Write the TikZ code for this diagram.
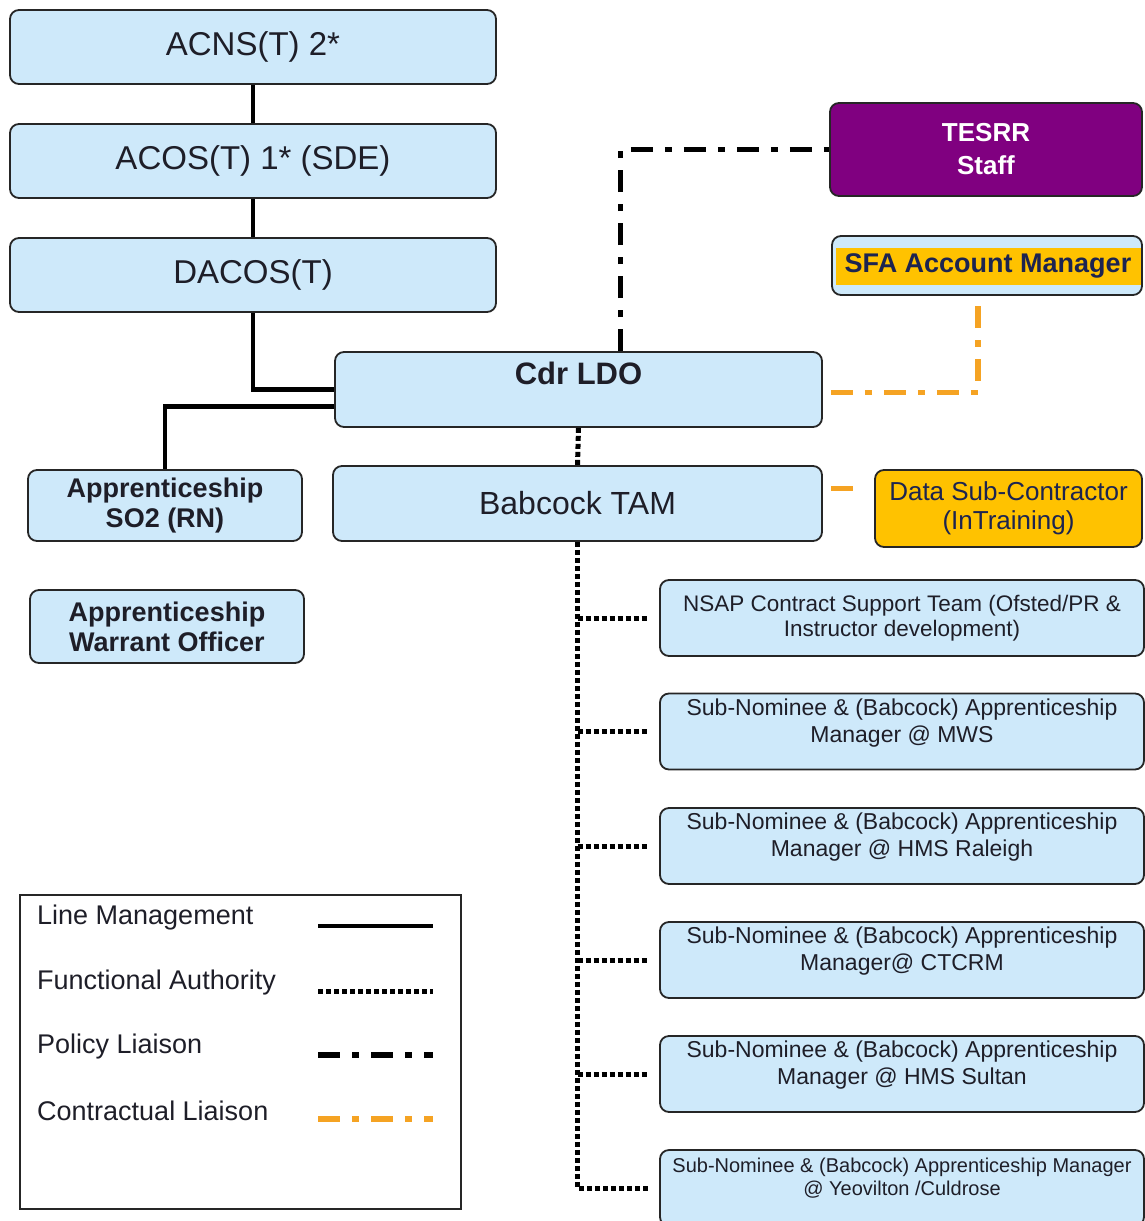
\documentclass[tikz,border=0pt]{standalone}
\usepackage{fontspec}
\setmainfont{Liberation Sans}
\definecolor{boxblue}{RGB}{206,233,250}
\definecolor{txtdark}{RGB}{30,30,40}
\definecolor{navytxt}{RGB}{28,36,80}
\definecolor{tesrrpurple}{RGB}{128,0,128}
\definecolor{sfayellow}{RGB}{255,194,0}
\definecolor{lineorange}{RGB}{245,163,35}
\newcommand{\fs}[2]{\fontsize{#1}{#2}\selectfont}
\tikzset{
  box/.style={draw=black!85, line width=1.8pt, rounded corners=9pt, fill=boxblue,
    text=txtdark, align=center, inner sep=0pt},
  widebox/.style={box, minimum width=486pt, minimum height=74pt, font=\fs{33}{38}},
  subbox/.style={box, minimum width=484pt, minimum height=76pt, font=\fs{23}{27}},
  linemgmt/.style={line width=4.5pt},
  functional/.style={line width=5pt, dash pattern=on 5pt off 3pt},
  policy/.style={line width=5.5pt, dash pattern=on 22pt off 12pt on 7pt off 12pt},
  contract/.style={line width=5.5pt, color=lineorange, dash pattern=on 22pt off 12pt on 7pt off 12pt},
}
\begin{document}
\begin{tikzpicture}[x=1pt, y=-1pt]
  \useasboundingbox (0,0) rectangle (1144,1221);
  % chain of command
  \node[widebox] (acns) at (253,47) {ACNS(T) 2*};
  \node[widebox] (acos) at (253,161) {ACOS(T) 1* (SDE)};
  \node[widebox] (dacos) at (253,275) {DACOS(T)};
  \node[box, minimum width=487pt, minimum height=75pt, font=\fs{31}{36}\bfseries,
    text height=23pt, text depth=33pt] (cdr) at (578.5,389.5) {Cdr LDO};
  \node[box, minimum width=489pt, minimum height=75pt, font=\fs{32}{37}] (tam) at (577.5,503.5) {Babcock TAM};
  \node[box, minimum width=274pt, minimum height=71pt, font=\fs{27}{30}\bfseries] (so2) at (165,505.5) {Apprenticeship\\SO2 (RN)};
  \node[box, minimum width=274pt, minimum height=73pt, font=\fs{27}{30}\bfseries] (wo) at (167,626.5) {Apprenticeship\\Warrant Officer};
  % liaison boxes
  \node[box, fill=tesrrpurple, text=white, minimum width=312pt, minimum height=93pt,
    font=\fs{26}{33}\bfseries] (tesrr) at (986,149.5) {TESRR\\Staff};
  \node[box, minimum width=310pt, minimum height=59pt] (sfa) at (987,265.5) {};
  \node[fill=sfayellow, minimum width=305pt, minimum height=37pt, inner sep=0pt,
    text=navytxt, font=\fs{27}{30}\bfseries] (sfatxt) at (988,266) {SFA Account Manager};
  \node[box, fill=sfayellow, text=navytxt, minimum width=267pt, minimum height=77pt,
    font=\fs{26}{29}] (data) at (1008.5,508.5) {Data Sub-Contractor\\(InTraining)};
  % apprenticeship managers
  \node[subbox, font=\fs{22.5}{25}] (nsap) at (902,618) {NSAP Contract Support Team (Ofsted/PR \&\\Instructor development)};
  \node[subbox, text depth=22pt] (mws) at (902,731.5) {Sub-Nominee \& (Babcock) Apprenticeship\\Manager @ MWS};
  \node[subbox, text depth=22pt] (raleigh) at (902,846) {Sub-Nominee \& (Babcock) Apprenticeship\\Manager @ HMS Raleigh};
  \node[subbox, text depth=22pt] (ctcrm) at (902,960) {Sub-Nominee \& (Babcock) Apprenticeship\\Manager@ CTCRM};
  \node[subbox, text depth=22pt] (sultan) at (902,1074) {Sub-Nominee \& (Babcock) Apprenticeship\\Manager @ HMS Sultan};
  \node[subbox, font=\fs{20}{23}, text depth=22pt] (yeo) at (902,1188) {Sub-Nominee \& (Babcock) Apprenticeship Manager\\@ Yeovilton /Culdrose};
  % connectors
  \draw[linemgmt] (acns) -- (acos);
  \draw[linemgmt] (acos) -- (dacos);
  \draw[linemgmt] (dacos.south) |- (cdr.west);
  \draw[linemgmt] ([yshift=-17pt]cdr.west) -| (so2.north);
  \draw[functional] (cdr.south) -- (tam.north);
  \draw[functional] (tam.south) |- ([xshift=-10pt]yeo.west);
  \foreach \n in {nsap,mws,raleigh,ctcrm,sultan}
    \draw[functional, shorten >=10pt] (tam.south |- \n.west) -- (\n.west);
  \draw[policy] ([xshift=42pt]cdr.north) |- (tesrr.west);
  \draw[contract, shorten <=8pt] ([yshift=-3pt]cdr.east) -| ([xshift=-9pt]sfa.south);
  \draw[contract, shorten <=8pt, shorten >=12pt] ([yshift=15pt]tam.east) -- ([yshift=15pt]tam.east -| data.west);
  % legend
  \node[draw=black!85, line width=1.5pt, minimum width=441pt, minimum height=314pt] (legend) at (240.5,1052) {};
  \foreach \t/\y/\s in {Line Management/918/linemgmt, Functional Authority/983/functional,
      Policy Liaison/1047/policy, Contractual Liaison/1111/contract} {
    \node[anchor=west, text=txtdark, font=\fs{27}{30}, inner sep=0pt] (lg\y) at (37,\y) {\t};
    \coordinate (la\y) at (318,\y+8);
    \coordinate (lb\y) at (433,\y+8);
    \draw[\s] (la\y) -- (lb\y);
  }
\end{tikzpicture}
\end{document}
